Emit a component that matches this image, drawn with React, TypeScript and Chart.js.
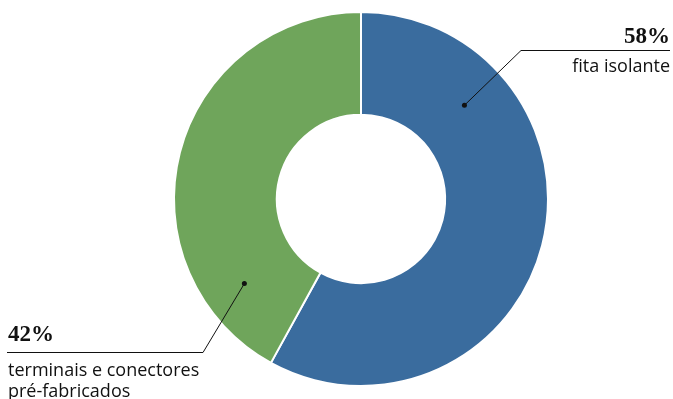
import React, { useEffect, useRef } from "react";
import { Chart, registerables } from "chart.js";

Chart.register(...registerables);

const categories = ["fita isolante", "terminais e conectores pré-fabricados"];
const values = [58, 42];
const pctLabels = ["58%", "42%"];
const labelLines = [["fita isolante"], ["terminais e conectores", "pré-fabricados"]];
const colors = ["#3a6c9e", "#6fa55b"];

const leaderPlugin = {
  id: "leaders",
  afterDraw(chart: any) {
    const ctx = chart.ctx;
    const meta = chart.getDatasetMeta(0);
    const W = chart.width;
    // position of each dot within its arc
    const fracs = [0.229, 0.167];
    const rOff = [4, 8.5];
    meta.data.forEach((arc: any, i: number) => {
      const { x, y, startAngle, endAngle, innerRadius, outerRadius } = arc.getProps(
        ["x", "y", "startAngle", "endAngle", "innerRadius", "outerRadius"],
        true
      );
      const a = startAngle + (endAngle - startAngle) * fracs[i];
      const r = (innerRadius + outerRadius) / 2 + rOff[i];
      const dx = x + Math.cos(a) * r;
      const dy = y + Math.sin(a) * r;
      ctx.save();
      ctx.fillStyle = "#111";
      ctx.strokeStyle = "#111";
      ctx.lineWidth = 1;
      ctx.beginPath();
      ctx.arc(dx, dy, 2.5, 0, Math.PI * 2);
      ctx.fill();
      if (i === 0) {
        const cx = 521, cy = 50.5;
        ctx.beginPath();
        ctx.moveTo(dx, dy);
        ctx.lineTo(cx, cy);
        ctx.lineTo(W - 3, cy);
        ctx.stroke();
        ctx.textAlign = "right";
        ctx.textBaseline = "alphabetic";
        ctx.font = "bold 23px 'Liberation Serif'";
        ctx.fillText(pctLabels[0], W - 3, 43);
        ctx.font = "18px 'Open Sans'";
        labelLines[0].forEach((t, k) => ctx.fillText(t, W - 3, 72 + k * 20.5));
      } else {
        const cx = 203, cy = 352.5;
        ctx.beginPath();
        ctx.moveTo(dx, dy);
        ctx.lineTo(cx, cy);
        ctx.lineTo(7, cy);
        ctx.stroke();
        ctx.textAlign = "left";
        ctx.textBaseline = "alphabetic";
        ctx.font = "bold 23px 'Liberation Serif'";
        ctx.fillText(pctLabels[1], 8, 341);
        ctx.font = "18px 'Open Sans'";
        labelLines[1].forEach((t, k) => ctx.fillText(t, 8, 376 + k * 20.5));
      }
      ctx.restore();
    });
  },
};

export default function App() {
  const ref = useRef<HTMLCanvasElement>(null);
  useEffect(() => {
    document.body.style.margin = "0";
    const chart = new Chart(ref.current!, {
      type: "doughnut",
      data: {
        labels: categories,
        datasets: [
          {
            data: values,
            backgroundColor: colors,
            borderColor: "#ffffff",
            borderWidth: 2,
          },
        ],
      },
      options: {
        responsive: false,
        animation: false,
        cutout: "45%",
        layout: { padding: { top: 11, bottom: 12, left: 173, right: 124 } },
        plugins: { legend: { display: false }, tooltip: { enabled: false } },
      },
      plugins: [leaderPlugin],
    });
    return () => chart.destroy();
  }, []);
  return (
    <div style={{ width: 673, height: 399, background: "#fff" }}>
      <canvas ref={ref} width={673} height={399} />
    </div>
  );
}
